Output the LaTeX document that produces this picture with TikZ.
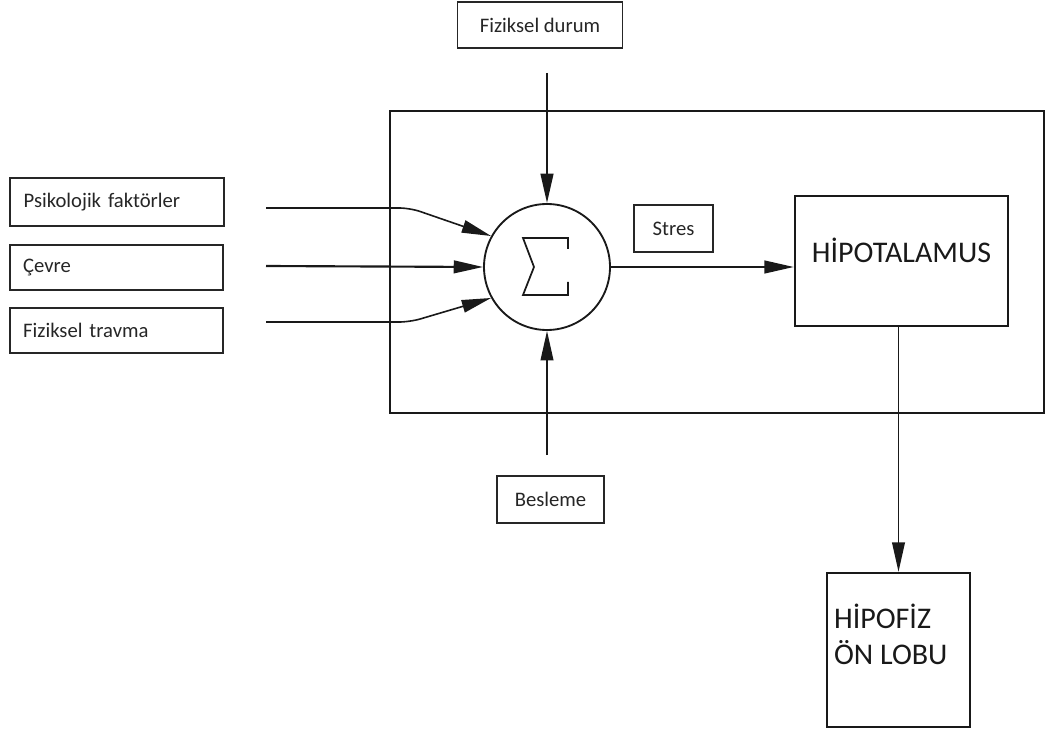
\documentclass[tikz,border=0pt]{standalone}
\usepackage{fontspec}
\setmainfont{Carlito}
\usetikzlibrary{arrows.meta,calc}
\begin{document}
\begin{tikzpicture}[x=0.75pt,y=-0.75pt,
  lbl/.style={draw=black!85, line width=0.8pt, font=\fontsize{15.5}{18}\selectfont, text=black!85, inner sep=0pt},
  lblleft/.style={lbl, align=left, inner xsep=9.75pt, text width=140pt},
  bigbox/.style={draw=black!90, line width=1.8pt, text=black!90, font=\fontsize{22.5}{27}\selectfont, inner sep=0pt},
  arr/.style={line width=1.6pt, draw=black!90, -{Triangle[length=22pt,width=9.5pt]}},
  thinarr/.style={arr, line width=1.2pt},
  frame/.style={draw=black!90, line width=1.6pt},
  sigma/.style={draw=black!90, line width=1.3pt, line join=miter}]
\useasboundingbox (0,0) rectangle (1046,734);

% outer frame
\draw[frame] (390,111) rectangle (1044,413);

% left labels
\node[lblleft, minimum width=160.5pt, minimum height=36pt] (psy) at (117,202) {Psikolojik faktörler};
\node[lblleft, minimum width=159.75pt, minimum height=33.75pt] (cevre) at (116.5,267.5) {Çevre};
\node[lblleft, minimum width=159.75pt, minimum height=33.75pt] (travma) at (116.5,330.5) {Fiziksel travma};

% top and bottom labels
\node[lbl, minimum width=123.75pt, minimum height=34.5pt] (durum) at (540,25) {Fiziksel durum};
\node[lbl, minimum width=80.25pt, minimum height=35.25pt] (besleme) at (550.5,499.5) {Besleme};
\node[lbl, minimum width=59.25pt, minimum height=35.25pt] (stres) at (673.5,228.5) {Stres};

% summing junction
\node[circle, draw=black!90, line width=1.4pt, minimum size=94.5pt, inner sep=0pt] (sum) at (547,267) {};
\begin{scope}[shift={(sum.center)}]
  \draw[sigma] (21,-18) -- (21,-29) -- (-24,-29) -- (-13,0) -- (-24,28) -- (21,28) -- (21,15);
\end{scope}

% hypothalamus and pituitary
\node[bigbox, minimum width=159.75pt, minimum height=97.5pt, text height=16pt, text depth=13.5pt] (hypo) at (901.5,261) {HİPOTALAMUS};
\node[bigbox, minimum width=107.25pt, minimum height=115.5pt,
      label={[anchor=north west, align=left, inner sep=0pt, text=black!90,
              font=\fontsize{22.5}{27}\selectfont, xshift=6pt, yshift=-24pt]north west:HİPOFİZ\\ÖN LOBU}] (hipofiz) at (898.5,650) {};

% free ends of connectors
\coordinate (psyS) at (266,208);
\coordinate (cevreS) at (266,266);
\coordinate (travmaS) at (266,322);
\coordinate (topS) at (547,73);
\coordinate (botS) at (547,455);

% connectors
\draw[thinarr, rounded corners=8pt] (psyS) -- ++(144,0) -- (sum.151);
\draw[arr] (cevreS) -- (sum.west);
\draw[thinarr, rounded corners=8pt] (travmaS) -- ++(144,0) -- (sum.209);
\draw[arr] (topS) -- (sum.north);
\draw[thinarr] (botS) -- (sum.south);
\draw[arr] (sum.east) -- (sum.east -| hypo.west);
\draw[thinarr] (hypo.south -| hipofiz.north) -- (hipofiz.north);
\end{tikzpicture}
\end{document}
